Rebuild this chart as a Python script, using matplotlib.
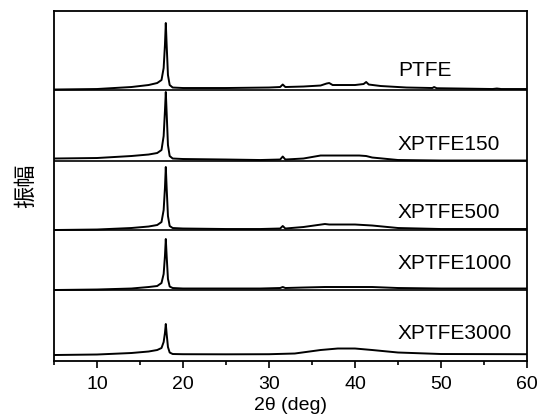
import matplotlib
matplotlib.use('Agg')
import matplotlib.pyplot as plt
from matplotlib.ticker import MultipleLocator

plt.rcParams['font.family'] = ['Liberation Sans', 'DejaVu Sans']

# sample names, stacking offsets (a.u.) and label heights
samples = ['PTFE', 'XPTFE150', 'XPTFE500', 'XPTFE1000', 'XPTFE3000']
offsets = [271, 200, 131, 71, 6]
label_y = [291, 217, 149, 98, 28]

# 2theta (deg) / intensity (a.u., above each offset)
ptfe_x = [5, 10, 14, 16, 17, 17.5, 17.75, 17.9, 18.0, 18.1, 18.25, 18.45, 18.8, 20, 25, 30,
          31.3, 31.6, 31.9, 34, 36, 36.7, 37.0, 37.4, 40, 41.0, 41.3, 41.6, 43, 46,
          49.0, 49.2, 49.5, 52, 56, 56.5, 57, 60]
ptfe_y = [0.5, 1, 3, 5, 7, 10, 22, 45, 67, 45, 15, 5, 2.5, 2, 2, 2.5,
          3, 5.5, 3, 3.5, 4.5, 6.5, 7, 5, 5, 6, 8, 5.5, 4, 2.5,
          2, 3, 1.8, 1.5, 1, 1.5, 1, 1]

x150 = [5, 10, 14, 16, 17, 17.5, 17.75, 17.9, 18.0, 18.1, 18.25, 18.45, 18.8, 20, 25, 29,
        31.3, 31.6, 31.9, 34, 36, 38, 40.5, 41.3, 42, 45, 50, 60]
y150 = [2.5, 3, 5, 6.5, 8, 11, 25, 50, 69, 48, 16, 5, 2.5, 2, 1.5, 1,
        1.5, 4.5, 1.5, 2.5, 5.5, 5.5, 5.5, 5, 3.5, 1, 0.5, 0.5]

x500 = [5, 10, 14, 16, 17, 17.5, 17.75, 17.9, 18.0, 18.1, 18.25, 18.45, 18.8, 20, 25, 29,
        31.3, 31.6, 31.9, 34, 36.5, 37, 40, 42, 45, 50, 60]
y500 = [0, 0.5, 2, 3.5, 5, 8, 20, 42, 63, 42, 14, 4, 2, 1.5, 1, 1,
        1.5, 4, 1.5, 3, 6, 5.5, 5.5, 4.5, 2, 1, 1]

x1000 = x500
y1000 = [0, 0.5, 1.5, 3, 4, 7, 16, 34, 51, 34, 11, 3.5, 2, 1.5, 1.5, 1.5,
         2, 3, 2, 2.5, 3, 3, 3, 3, 2, 1.5, 1.5]

x3000 = [5, 10, 14, 16, 17, 17.5, 17.75, 17.9, 18.0, 18.1, 18.25, 18.45, 18.8, 20, 25, 30,
         33, 36, 38, 40, 42, 45, 50, 60]
y3000 = [0, 0.5, 2, 3.5, 5, 7, 13, 22, 31, 21, 8, 2.5, 1, 0.8, 0.7, 0.8,
         1.5, 5, 6.5, 6.5, 5, 2.5, 1, 0.8]

xs = [ptfe_x, x150, x500, x1000, x3000]
ys = [ptfe_y, y150, y500, y1000, y3000]

fig = plt.figure(figsize=(5.39, 4.19), dpi=100)
ax = fig.add_axes([0.1002, 0.1384, 0.8775, 0.8353])

for name, off, ly, x, y in zip(samples, offsets, label_y, xs, ys):
    ax.plot(x, [v + off for v in y], color='black', lw=1.4)
    ax.text(45, ly, name, fontsize=15, va='center', ha='left')

# separators between stacked patterns
for off in offsets[:-1]:
    ax.axhline(off, color='black', lw=1.2)

ax.set_xlim(5, 60)
ax.set_ylim(0, 350)
ax.set_yticks([])
ax.xaxis.set_major_locator(MultipleLocator(10))
ax.xaxis.set_minor_locator(MultipleLocator(5))
ax.tick_params(axis='x', which='major', direction='out', length=5, width=1.2, labelsize=14, pad=6)
ax.tick_params(axis='x', which='minor', direction='out', length=3, width=1.2)
for s in ax.spines.values():
    s.set_linewidth(1.3)

ax.set_xlabel('2θ (deg)', fontsize=14, labelpad=3)
ax.set_ylabel('振幅', fontsize=16, family=['Noto Sans CJK SC', 'DejaVu Sans'], labelpad=12)

fig.savefig('out.png', dpi=100)
